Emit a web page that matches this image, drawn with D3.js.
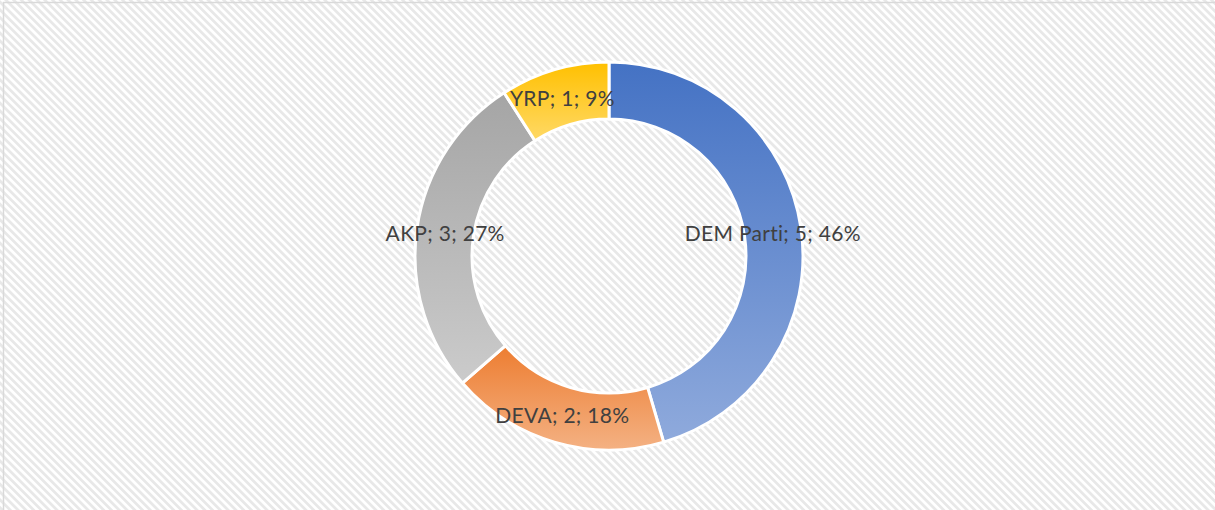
<!DOCTYPE html>
<html><head><meta charset="utf-8">
<script src="https://cdn.jsdelivr.net/npm/d3@7"></script>
<style>html,body{margin:0;padding:0;background:#fff;overflow:hidden}</style>
</head><body>
<svg id="c" width="1215" height="510"></svg>
<script>
const categories = ["DEM Parti", "DEVA", "AKP", "YRP"];
const values = [5, 2, 3, 1];
const percentLabels = ["46%", "18%", "27%", "9%"];
const colorTop = ["#4472C4", "#ED7D31", "#A5A5A5", "#FFC000"];
const colorBottom = ["#8FAADC", "#F4B183", "#CBCBCB", "#FFD966"];

const W = 1215, H = 510;
const svg = d3.select("#c");
const defs = svg.append("defs");

const pat = defs.append("pattern").attr("id", "hatch")
  .attr("patternUnits", "userSpaceOnUse").attr("width", 5.5).attr("height", 5.5)
  .attr("patternTransform", "rotate(45)");
pat.append("rect").attr("width", 5.5).attr("height", 5.5).attr("fill", "#ffffff");
pat.append("rect").attr("width", 5.5).attr("height", 2.75).attr("fill", "#e8e8e8");

svg.append("rect").attr("x", 0).attr("y", 0).attr("width", W).attr("height", H).attr("fill", "url(#hatch)");
svg.append("rect").attr("x", 3.5).attr("y", 2.5).attr("width", W + 10).attr("height", H + 10)
  .attr("fill", "none").attr("stroke", "#d9d9d9").attr("stroke-width", 1.5);

categories.forEach((c, i) => {
  const g = defs.append("linearGradient").attr("id", "g" + i)
    .attr("x1", 0).attr("y1", 0).attr("x2", 0).attr("y2", 1);
  g.append("stop").attr("offset", "0%").attr("stop-color", colorTop[i]);
  g.append("stop").attr("offset", "100%").attr("stop-color", colorBottom[i]);
});

const cx = 609, cy = 256, rOuter = 194, rInner = 137;
const data = categories.map((c, i) => ({ name: c, value: values[i], pct: percentLabels[i], i }));
const pie = d3.pie().value(d => d.value).sort(null);
const arc = d3.arc().innerRadius(rInner).outerRadius(rOuter);
const arcs = pie(data);

const g = svg.append("g").attr("transform", `translate(${cx},${cy})`);
g.selectAll("path.slice").data(arcs).join("path")
  .attr("class", "slice")
  .attr("d", arc)
  .attr("fill", d => `url(#g${d.data.i})`)
  .attr("stroke", "#ffffff").attr("stroke-width", 3).attr("stroke-linejoin", "round");

g.selectAll("text.lbl").data(arcs).join("text")
  .attr("class", "lbl")
  .attr("x", d => arc.centroid(d)[0])
  .attr("y", d => arc.centroid(d)[1])
  .attr("text-anchor", "middle")
  .attr("dominant-baseline", "central")
  .attr("font-family", "Lato, 'Liberation Sans', sans-serif")
  .attr("font-size", 21)
  .attr("letter-spacing", 0.3)
  .attr("fill", "#404040")
  .text(d => `${d.data.name}; ${d.data.value}; ${d.data.pct}`);
</script>
</body></html>
